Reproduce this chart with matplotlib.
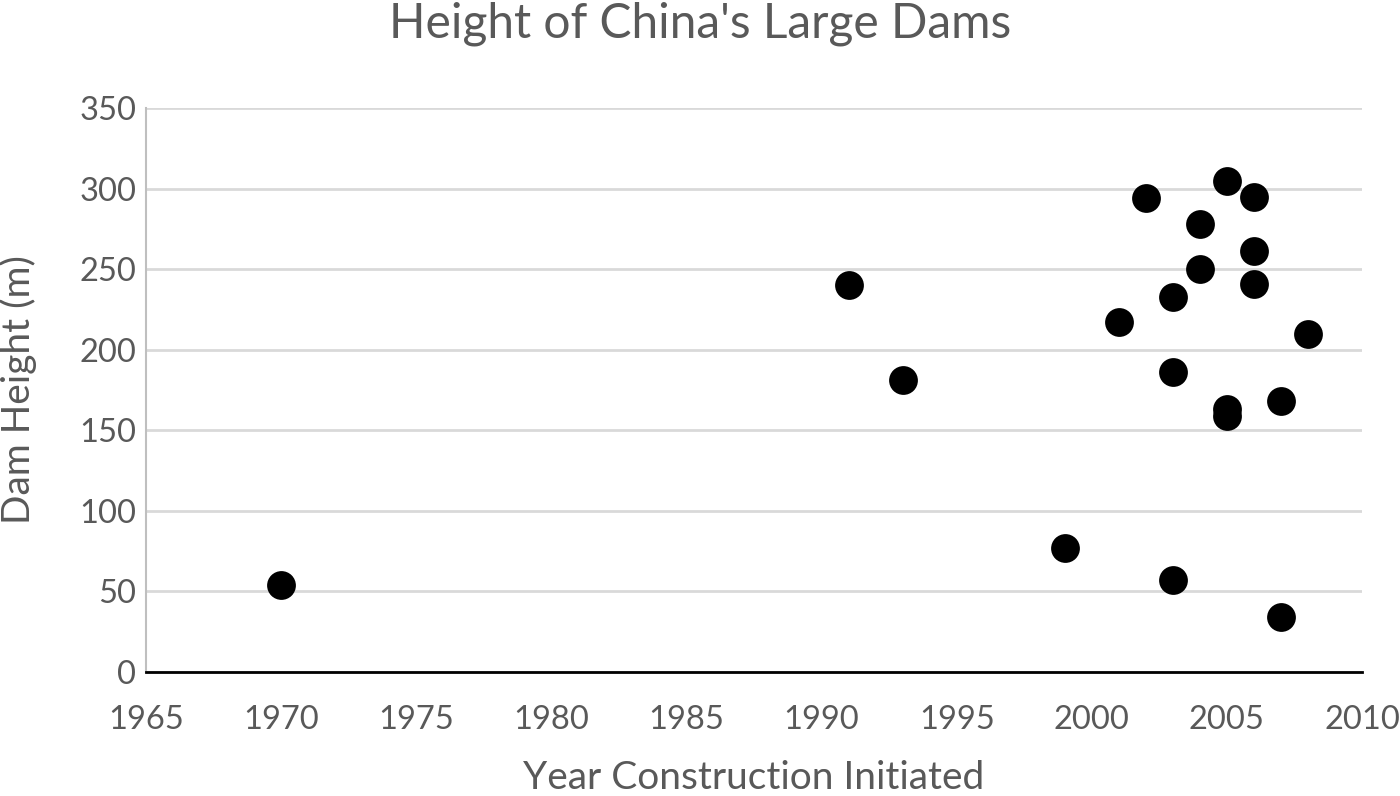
import matplotlib
matplotlib.use("Agg")
import matplotlib.pyplot as plt

years = [1970, 1991, 1993, 1999, 2001, 2002, 2003, 2003, 2003, 2004, 2004,
         2005, 2005, 2005, 2006, 2006, 2006, 2007, 2007, 2008]
heights = [54, 240, 181, 77, 217, 294, 233, 186, 57, 278, 250,
           305, 163, 159, 295, 261, 241, 168, 34, 210]
xticks = [1965, 1970, 1975, 1980, 1985, 1990, 1995, 2000, 2005, 2010]
yticks = [0, 50, 100, 150, 200, 250, 300, 350]

plt.rcParams['font.family'] = ['Lato', 'DejaVu Sans']
txt = '#595959'

fig = plt.figure(figsize=(14, 7.96), dpi=100)
ax = fig.add_axes([146/1400, 124/796, 1216/1400, 564/796])
ax.scatter(years, heights, s=430, color='black', zorder=3, linewidths=0)
ax.set_xlim(1965, 2010)
ax.set_ylim(0, 350)
ax.set_xticks(xticks)
ax.set_yticks(yticks)
ax.grid(axis='y', color='#d9d9d9', linewidth=2)
ax.set_axisbelow(True)
for s in ['top', 'right']:
    ax.spines[s].set_visible(False)
ax.spines['left'].set_color('#bfbfbf')
ax.spines['left'].set_linewidth(1.5)
ax.spines['bottom'].set_color('black')
ax.spines['bottom'].set_linewidth(2)
ax.tick_params(length=0, labelsize=23.5, labelcolor=txt)
ax.tick_params(axis='x', pad=24)
ax.tick_params(axis='y', pad=7)
ax.set_xlabel('Year Construction Initiated', fontsize=28, color=txt)
ax.xaxis.set_label_coords(0.5, -(778 - 672) / 564, transform=ax.transAxes)
ax.xaxis.label.set_va('center')
ax.set_ylabel('Dam Height (m)', fontsize=28, color=txt)
ax.yaxis.set_label_coords(-(146 - 18) / 1216, 0.5, transform=ax.transAxes)
ax.yaxis.label.set_va('center')
fig.text(0.5, 1 - 24/796, "Height of China's Large Dams", ha='center', va='center',
         fontsize=34.5, color=txt)
fig.savefig('out.png', dpi=100)
